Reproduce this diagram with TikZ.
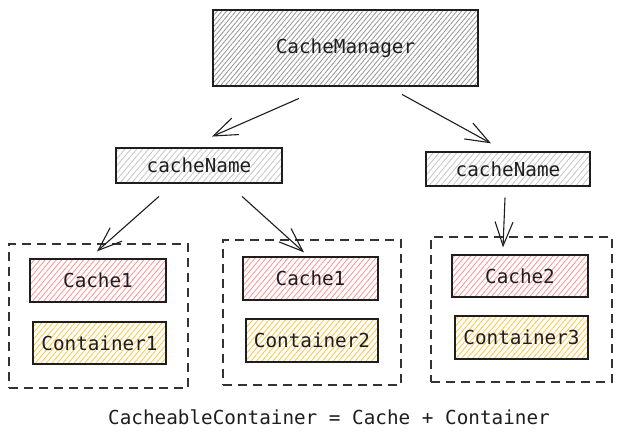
\documentclass[tikz,border=0pt]{standalone}
\usepackage{fontspec}
\setmonofont{DejaVu Sans Mono}
\usetikzlibrary{arrows.meta,patterns.meta}
\definecolor{ink}{HTML}{1E1E1E}
\definecolor{dashc}{HTML}{333333}
\definecolor{hgray}{HTML}{999999}
\definecolor{hlight}{HTML}{C8C8C8}
\definecolor{hred}{HTML}{FF9696}
\definecolor{hyel}{HTML}{FFC845}
\tikzset{
  box/.style={draw=ink, line width=1.3pt, rectangle, inner sep=0pt,
    font=\ttfamily\fontsize{19.3}{21}\selectfont, text=ink},
  hatch/.style={pattern={Lines[angle=50,distance=#1,line width=0.85pt]}},
  mgr/.style={box, hatch=3.6pt, pattern color=hgray},
  namebox/.style={box, hatch=4.5pt, pattern color=hlight},
  cachebox/.style={box, hatch=4.2pt, pattern color=hred},
  contbox/.style={box, hatch=4.2pt, pattern color=hyel},
  group/.style={draw=dashc, line width=1.3pt, dash pattern=on 9pt off 6pt, rectangle, inner sep=0pt},
  arr/.style={draw=ink, line width=1.1pt, -{Straight Barb[length=24pt,width=18pt,line width=1.1pt]}},
  note/.style={font=\ttfamily\fontsize{19.3}{21}\selectfont, text=ink}
}
\begin{document}
\begin{tikzpicture}[x=1pt,y=-1pt]
\useasboundingbox (0,0) rectangle (620,438);
\fill[white] (0,0) rectangle (620,438);
% top
\node[mgr, minimum width=265pt, minimum height=76pt] (cm) at (345.5,48) {CacheManager};
\node[namebox, minimum width=166pt, minimum height=35pt] (cn1) at (199,165.5) {cacheName};
\node[namebox, minimum width=164pt, minimum height=34pt] (cn2) at (508,169) {cacheName};
% groups
\node[group, minimum width=179pt, minimum height=144pt] (g1) at (98.5,316) {};
\node[group, minimum width=178pt, minimum height=145pt] (g2) at (312,312.5) {};
\node[group, minimum width=181pt, minimum height=145pt] (g3) at (521.5,309.5) {};
% inner boxes
\node[cachebox, minimum width=136pt, minimum height=43pt] (c1) at (98,280.5) {Cache1};
\node[contbox, minimum width=133pt, minimum height=42pt] (k1) at (99.5,343) {Container1};
\node[cachebox, minimum width=135pt, minimum height=43pt] (c2) at (310.5,278.5) {Cache1};
\node[contbox, minimum width=132pt, minimum height=43pt] (k2) at (312,340.5) {Container2};
\node[cachebox, minimum width=136pt, minimum height=42pt] (c3) at (520,276) {Cache2};
\node[contbox, minimum width=133pt, minimum height=43pt] (k3) at (521.5,337.5) {Container3};
% arrows
\draw[arr] ([xshift=-46.5pt,yshift=-12pt]cm.south) -- ([xshift=13pt,yshift=11pt]cn1.north);
\draw[arr] ([xshift=56.5pt,yshift=-8pt]cm.south) -- ([xshift=-17pt,yshift=8pt]cn2.north);
\draw[arr] ([xshift=-40pt,yshift=-13pt]cn1.south) -- ([xshift=-1.5pt,yshift=-8pt]g1.north);
\draw[arr] ([xshift=43pt,yshift=-13pt]cn1.south) -- ([xshift=-8pt,yshift=-13pt]g2.north);
\draw[arr] ([xshift=-3pt,yshift=-11pt]cn2.south) -- ([xshift=-18.5pt,yshift=-11pt]g3.north);
% caption
\node[note] (cap) at (329,417) {CacheableContainer = Cache + Container};
\end{tikzpicture}
\end{document}
